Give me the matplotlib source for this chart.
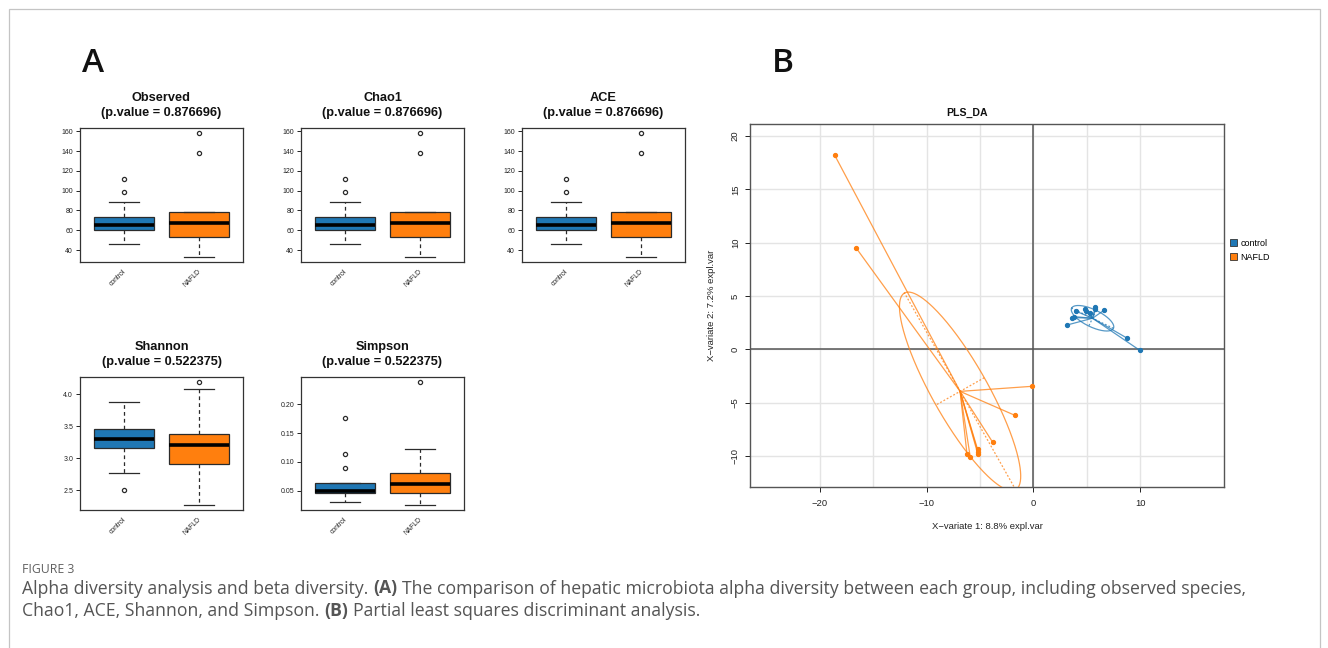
import numpy as np
import matplotlib
matplotlib.use("Agg")
import matplotlib.pyplot as plt
import matplotlib.transforms as mtransforms
from matplotlib.patches import Patch, Rectangle
from matplotlib.ticker import MultipleLocator, FixedLocator, FormatStrFormatter

W, H, DPI = 1328, 648, 100

# ---------------- data ----------------
groups = ["control", "NAFLD"]

# box statistics: [lower whisker, Q1, median, Q3, upper whisker]
observed_control = [46.1, 60.0, 65.4, 73.2, 88.8]
observed_nafld = [32.9, 53.2, 67.5, 78.6, 78.6]
observed_control_out = [99.0, 111.9]
observed_nafld_out = [138.0, 158.3]

chao1_control = [46.1, 60.0, 65.4, 73.2, 88.8]
chao1_nafld = [32.9, 53.2, 67.5, 78.6, 78.6]
chao1_control_out = [99.0, 111.9]
chao1_nafld_out = [138.0, 158.3]

ace_control = [46.1, 60.0, 65.4, 73.2, 88.8]
ace_nafld = [32.9, 53.2, 67.5, 78.6, 78.6]
ace_control_out = [99.0, 111.9]
ace_nafld_out = [138.0, 158.3]

shannon_control = [2.770, 3.152, 3.296, 3.458, 3.869]
shannon_nafld = [2.265, 2.900, 3.200, 3.369, 4.078]
shannon_control_out = [2.50]
shannon_nafld_out = [4.19]

simpson_control = [0.0309, 0.0460, 0.0500, 0.0627, 0.0627]
simpson_nafld = [0.0250, 0.0465, 0.0610, 0.0807, 0.1220]
simpson_control_out = [0.0888, 0.1133, 0.1755]
simpson_nafld_out = [0.2390]

metric_names = ["Observed", "Chao1", "ACE", "Shannon", "Simpson"]
p_values = [0.876696, 0.876696, 0.876696, 0.522375, 0.522375]

# PLS-DA sample scores
nafld_x1 = [-18.61, -16.58, -0.16, -1.72, -3.82, -5.22, -5.19, -5.19, -6.22, -5.91]
nafld_x2 = [18.19, 9.47, -3.47, -6.19, -8.69, -9.38, -9.63, -9.84, -9.78, -10.09]
control_x1 = [3.96, 4.84, 4.95, 5.82, 5.80, 6.61, 5.32, 3.61, 3.77, 3.13, 8.80, 9.97]
control_x2 = [3.59, 3.77, 3.62, 3.93, 3.75, 3.65, 3.37, 2.98, 3.07, 2.27, 1.04, -0.09]
xvar1_label = "X\u2212variate 1: 8.8% expl.var"
xvar2_label = "X\u2212variate 2: 7.2% expl.var"

# ---------------- style ----------------
BLUE = "#1f77b4"
ORANGE = "#ff7f0e"
R_FONT = ["Liberation Sans", "DejaVu Sans"]
CAP_FONT = ["Open Sans", "DejaVu Sans"]

fig = plt.figure(figsize=(W / DPI, H / DPI), dpi=DPI)
fig.patch.set_facecolor("white")


def px_axes(l, t, r, b):
    return fig.add_axes([l / W, 1 - b / H, (r - l) / W, (b - t) / H])


# outer frame
fig.add_artist(Rectangle((8.5 / W, -0.1), (1320 - 8.5) / W, 1.1 - 9.5 / H,
                         transform=fig.transFigure, fill=False,
                         edgecolor="#c4c4c4", linewidth=0.9))

# panel letters
fig.text(93.5 / W, 1 - 71.5 / H, "A", fontsize=24, family=CAP_FONT, fontweight="semibold",
         ha="center", va="baseline", color="#111111")
fig.text(783 / W, 1 - 71.5 / H, "B", fontsize=24, family=CAP_FONT, fontweight="semibold",
         ha="center", va="baseline", color="#111111")

# ---------------- boxplots ----------------
box_data = [
    (observed_control, observed_nafld, observed_control_out, observed_nafld_out),
    (chao1_control, chao1_nafld, chao1_control_out, chao1_nafld_out),
    (ace_control, ace_nafld, ace_control_out, ace_nafld_out),
    (shannon_control, shannon_nafld, shannon_control_out, shannon_nafld_out),
    (simpson_control, simpson_nafld, simpson_control_out, simpson_nafld_out),
]
panel_px = [(80, 128, 243, 262), (301, 128, 464, 262), (522, 128, 685, 262),
            (80, 377, 243, 510), (301, 377, 464, 510)]
tick_steps = [20, 20, 20, 0.5, 0.05]
tick_fmts = ["%d", "%d", "%d", "%.1f", "%.2f"]
EDGE = "#2b2b2b"

for i, (name, pv, (c, n, co, no)) in enumerate(zip(metric_names, p_values, box_data)):
    l, t, r, b = panel_px[i]
    ax = px_axes(l, t, r, b)
    stats = []
    for g, s, out in zip(groups, (c, n), (co, no)):
        stats.append(dict(label=g, whislo=s[0], q1=s[1], med=s[2], q3=s[3],
                          whishi=s[4], fliers=out))
    bp = ax.bxp(stats, positions=[1, 2], widths=0.8, patch_artist=True,
                showfliers=True, capwidths=0.4,
                boxprops=dict(edgecolor=EDGE, linewidth=0.9),
                medianprops=dict(color="black", linewidth=2.6, solid_capstyle="butt"),
                whiskerprops=dict(color=EDGE, linewidth=0.9, linestyle=(0, (3, 2.5))),
                capprops=dict(color=EDGE, linewidth=0.9),
                flierprops=dict(marker="o", markerfacecolor="none",
                                markeredgecolor=EDGE, markersize=3,
                                markeredgewidth=0.9))
    for patch, col in zip(bp["boxes"], (BLUE, ORANGE)):
        patch.set_facecolor(col)
    allv = list(c) + list(n) + list(co) + list(no)
    lo, hi = min(allv), max(allv)
    pad = 0.04 * (hi - lo)
    ax.set_ylim(lo - pad, hi + pad)
    ax.set_xlim(0.42, 2.58)
    ax.yaxis.set_major_locator(MultipleLocator(tick_steps[i]))
    ax.yaxis.set_major_formatter(FormatStrFormatter(tick_fmts[i]))
    ax.tick_params(axis="y", direction="out", length=3, width=0.7,
                   labelsize=5.0, pad=2, colors="#222222")
    ax.set_xticks([])
    for sp in ax.spines.values():
        sp.set_color("#333333")
        sp.set_linewidth(0.9)
    for lab in ax.get_yticklabels():
        lab.set_family(R_FONT)
    off = mtransforms.ScaledTranslation(3.5 / DPI, -6 / DPI, fig.dpi_scale_trans)
    tr = mtransforms.blended_transform_factory(ax.transData, ax.transAxes) + off
    for pos, g in zip([1, 2], groups):
        ax.text(pos, 0, g, transform=tr, rotation=45, ha="right", va="top",
                fontsize=4.9, family=R_FONT, color="#222222")
    cx = (l + r) / 2
    fig.text(cx / W, 1 - (t - 26.8) / H, name, ha="center", va="baseline",
             fontsize=9.2, fontweight="bold", family=R_FONT, color="#111111")
    fig.text(cx / W, 1 - (t - 12.3) / H, "(p.value = %.6f)" % pv, ha="center",
             va="baseline", fontsize=9.2, fontweight="bold", family=R_FONT,
             color="#111111")

# ---------------- PLS-DA ----------------
ax = px_axes(750.3, 124.3, 1223.6, 486.7)
ax.set_xlim(-26.52, 17.83)
ax.set_ylim(-12.875, 21.09)
ax.xaxis.set_major_locator(MultipleLocator(10))
ax.xaxis.set_minor_locator(FixedLocator(np.arange(-20, 11, 5)))
ax.yaxis.set_major_locator(MultipleLocator(5))
ax.grid(True, axis="x", which="both", color="#e4e4e4", linewidth=1.0, zorder=0)
ax.grid(True, axis="y", which="major", color="#e4e4e4", linewidth=1.0, zorder=0)
ax.set_axisbelow(True)
ax.axhline(0, color="#555555", linewidth=1.1, zorder=1)
ax.axvline(0, color="#555555", linewidth=1.1, zorder=1)
ax.tick_params(which="minor", length=0)
ax.tick_params(which="major", direction="out", length=3.5, width=0.7,
               labelsize=6.8, colors="#222222")
ax.tick_params(axis="x", pad=5)
ax.tick_params(axis="y", pad=4)
for lab in ax.get_yticklabels():
    lab.set_rotation(90)
    lab.set_va("center")
for lab in ax.get_xticklabels() + ax.get_yticklabels():
    lab.set_family(R_FONT)
for sp in ax.spines.values():
    sp.set_color("#555555")
    sp.set_linewidth(1.0)

for xs, ys, col in ((nafld_x1, nafld_x2, ORANGE), (control_x1, control_x2, BLUE)):
    xs = np.asarray(xs)
    ys = np.asarray(ys)
    cxm, cym = xs.mean(), ys.mean()
    for xv, yv in zip(xs, ys):
        ax.plot([cxm, xv], [cym, yv], color=col, alpha=0.75, linewidth=0.9, zorder=3)
    ax.plot(xs, ys, "o", color=col, markersize=2.8, zorder=4)
    cov = np.cov(np.vstack([xs, ys]), bias=True)
    vals, vecs = np.linalg.eigh(cov)
    sd = np.sqrt(vals)
    tt = np.linspace(0, 2 * np.pi, 300)
    ex = cxm + sd[1] * np.cos(tt) * vecs[0, 1] + sd[0] * np.sin(tt) * vecs[0, 0]
    ey = cym + sd[1] * np.cos(tt) * vecs[1, 1] + sd[0] * np.sin(tt) * vecs[1, 0]
    ax.plot(ex, ey, color=col, alpha=0.75, linewidth=0.9, zorder=3)
    for k in range(2):
        ax.plot([cxm - sd[k] * vecs[0, k], cxm + sd[k] * vecs[0, k]],
                [cym - sd[k] * vecs[1, k], cym + sd[k] * vecs[1, k]],
                color=col, alpha=0.75, linewidth=0.9, linestyle=(0, (1.5, 1.5)), zorder=3)

fig.text(967.5 / W, 1 - 116 / H, "PLS_DA", ha="center", va="baseline",
         fontsize=7.6, fontweight="bold", family=R_FONT, color="#111111")
fig.text(987 / W, 1 - 526.7 / H, xvar1_label, ha="center", va="center",
         fontsize=6.8, family=R_FONT, color="#222222")
fig.text(711 / W, 1 - 305.5 / H, xvar2_label, ha="center", va="center",
         rotation=90, fontsize=6.8, family=R_FONT, color="#222222")

handles = [Patch(facecolor=BLUE, edgecolor="#333333", linewidth=0.6),
           Patch(facecolor=ORANGE, edgecolor="#333333", linewidth=0.6)]
fig.legend(handles, groups, loc="center left", bbox_to_anchor=(1230 / W, 1 - 250.5 / H),
           frameon=False, handlelength=0.8, handleheight=0.8,
           handletextpad=0.35, labelspacing=0.55, borderpad=0, borderaxespad=0,
           prop=dict(family=R_FONT, size=6.5))

# ---------------- caption ----------------
renderer = fig.canvas.get_renderer()


def text_width(s, size, weight="normal"):
    t = fig.text(0, 0, s, fontsize=size, fontweight=weight, family=CAP_FONT)
    w = t.get_window_extent(renderer=renderer).width
    t.remove()
    return w


line1 = [("Alpha diversity analysis and beta diversity.", "normal"), ("(A)", "bold"),
         ("The comparison of hepatic microbiota alpha diversity between each group, including observed species,", "normal")]
line2 = [("Chao1, ACE, Shannon, and Simpson.", "normal"), ("(B)", "bold"),
         ("Partial least squares discriminant analysis.", "normal")]

base = 10.0
sp_w = text_width("a a", base) - text_width("aa", base)
tot = sum(text_width(s, base, w) for s, w in line1) + 2 * sp_w
cap_size = base * (1223.0 / tot)
CAP_COLOR = "#555555"


def draw_line(segs, x0, ybase, size):
    spw = text_width("a a", size) - text_width("aa", size)
    x = x0
    for s, wgt in segs:
        fig.text(x / W, 1 - ybase / H, s, fontsize=size, fontweight=wgt,
                 family=CAP_FONT, color=CAP_COLOR, ha="left", va="baseline")
        x += text_width(s, size, wgt) + spw


fig.text(22.5 / W, 1 - 572.7 / H, "FIGURE 3", fontsize=8.8, family=CAP_FONT,
         color="#606060", ha="left", va="baseline")
draw_line(line1, 22.5, 593.5, cap_size)
draw_line(line2, 22.5, 616.0, cap_size)

fig.savefig("out.png", dpi=DPI, facecolor="white")
